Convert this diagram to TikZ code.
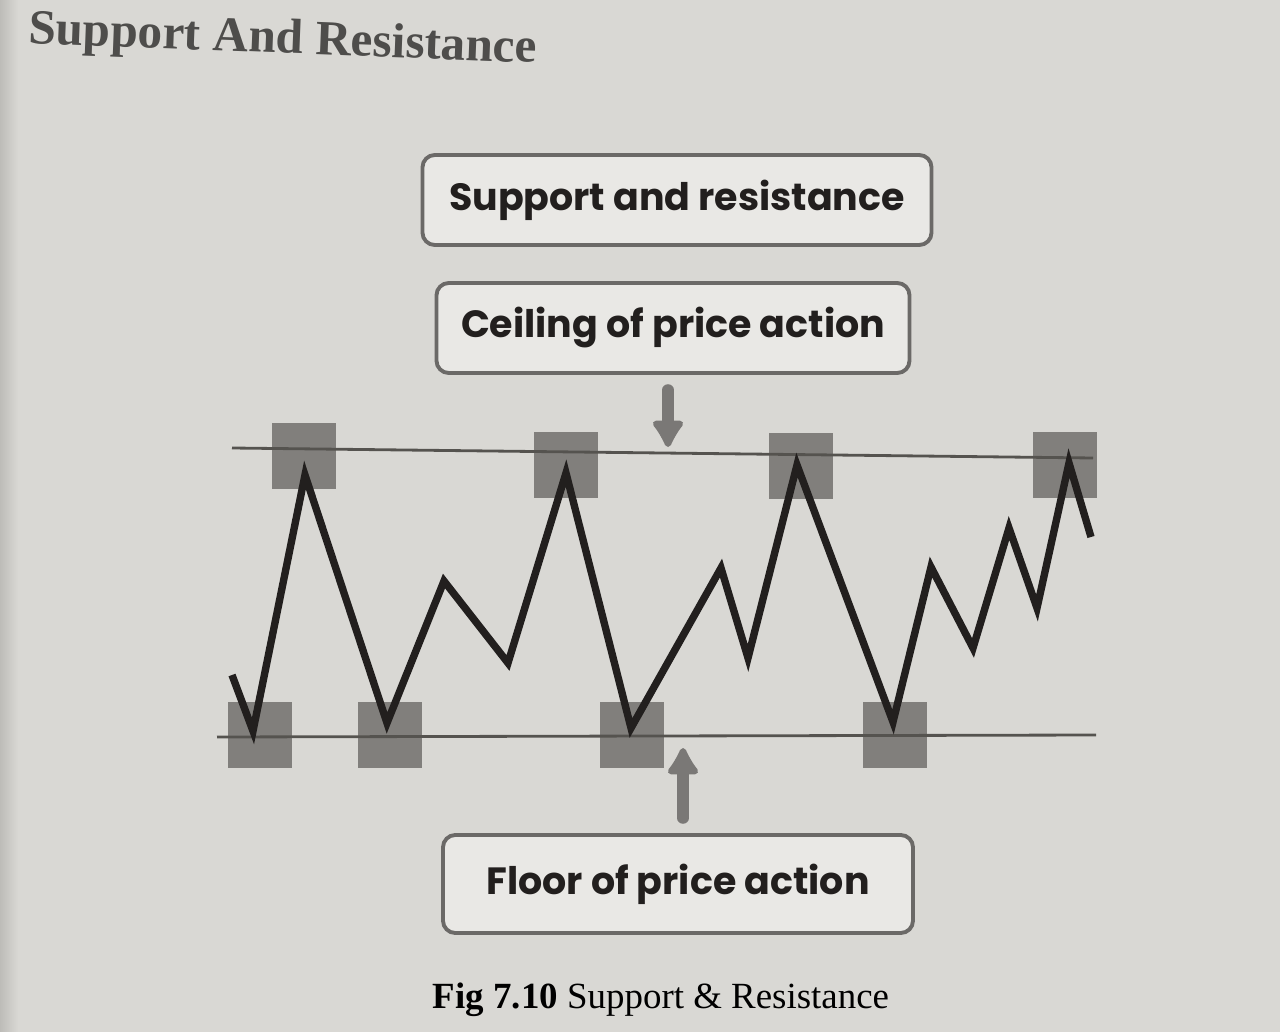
\documentclass[tikz,border=0pt]{standalone}
\usepackage{fontspec}
\setmainfont{Liberation Serif}
\newfontfamily\handfont{Poppins}
\usetikzlibrary{arrows.meta,shadows}

\definecolor{paper}{HTML}{D9D8D4}
\definecolor{paperdark}{HTML}{BDBCB8}
\definecolor{boxfill}{HTML}{E9E8E5}
\definecolor{boxedge}{HTML}{6B6967}
\definecolor{sqgray}{HTML}{817F7C}
\definecolor{linegray}{HTML}{55534F}
\definecolor{arrowgray}{HTML}{7A7876}
\definecolor{ink}{HTML}{221F1E}
\definecolor{titlegray}{HTML}{4E4D4B}

\tikzset{
  labelbox/.style={draw=boxedge, line width=2.2pt, fill=boxfill, rounded corners=7pt,
    drop shadow={shadow xshift=0.6pt, shadow yshift=-0.8pt, opacity=0.35},
    text=ink, font=\handfont\bfseries\fontsize{21.6}{26}\selectfont},
  pricesq/.style={fill=sqgray, minimum width=12.8mm, minimum height=13.2mm, inner sep=0pt},
  level/.style={draw=linegray, line width=1.6pt},
  price/.style={draw=ink, line width=4.2pt, line join=miter},
  pointer/.style={draw=arrowgray, line width=6.5pt, line cap=round,
    -{Latex[length=18pt,width=22pt,round]}}
}

\begin{document}
\begin{tikzpicture}[x=0.2mm,y=-0.2mm]
    \useasboundingbox (0,0) rectangle (1280,1032);
    \fill[paper] (0,0) rectangle (1280,1032);
    \shade[left color=paperdark, right color=paper] (0,0) rectangle (18,1032);

    \node[anchor=base west, rotate=-2.2, text=titlegray, font=\bfseries\fontsize{28}{32}\selectfont] (title) at (22,43) {Support And Resistance};

    \node[labelbox, minimum width=101.8mm, minimum height=18mm] (theme) at (677,200) {Support and resistance};
    \node[labelbox, minimum width=94.6mm, minimum height=18mm] (ceil) at (673,328) {Ceiling of price action};
    \node[labelbox, minimum width=94mm, minimum height=19.6mm] (floor) at (678,884) {Floor of price action};

    % highs and lows
    \node[pricesq] (high1) at (304,456) {};
    \node[pricesq] (high2) at (566,465) {};
    \node[pricesq] (high3) at (801,466) {};
    \node[pricesq] (high4) at (1065,465) {};
    \node[pricesq] (low1) at (260,735) {};
    \node[pricesq] (low2) at (390,735) {};
    \node[pricesq] (low3) at (632,735) {};
    \node[pricesq] (low4) at (895,735) {};

    \coordinate (ceilL) at (232,448);
    \coordinate (ceilR) at (1093,458);
    \coordinate (floorL) at (217,737);
    \coordinate (floorR) at (1096,735);
    \draw[level] (ceilL) -- (ceilR);
    \draw[level] (floorL) -- (floorR);

    \draw[price] (232,675) -- (253,731) -- (305,475) -- (387,723) -- (444,581) -- (508,663)
        -- (566,473) -- (631,728) -- (721,568) -- (748,658) -- (797,465) -- (893,722)
        -- (931,567) -- (973,648) -- (1009,528) -- (1037,608) -- (1069,463) -- (1091,537);

    \coordinate (ceilhit) at (668,447);
    \coordinate (floorhit) at (683,748);
    \draw[pointer, shorten <=3mm] (ceil.south -| ceilhit) -- (ceilhit);
    \draw[pointer, shorten <=3mm] (floor.north -| floorhit) -- (floorhit);

    \node[anchor=base, font=\fontsize{21}{25}\selectfont] (caption) at (661,1008) {\textbf{Fig 7.10} Support \& Resistance};
\end{tikzpicture}
\end{document}
